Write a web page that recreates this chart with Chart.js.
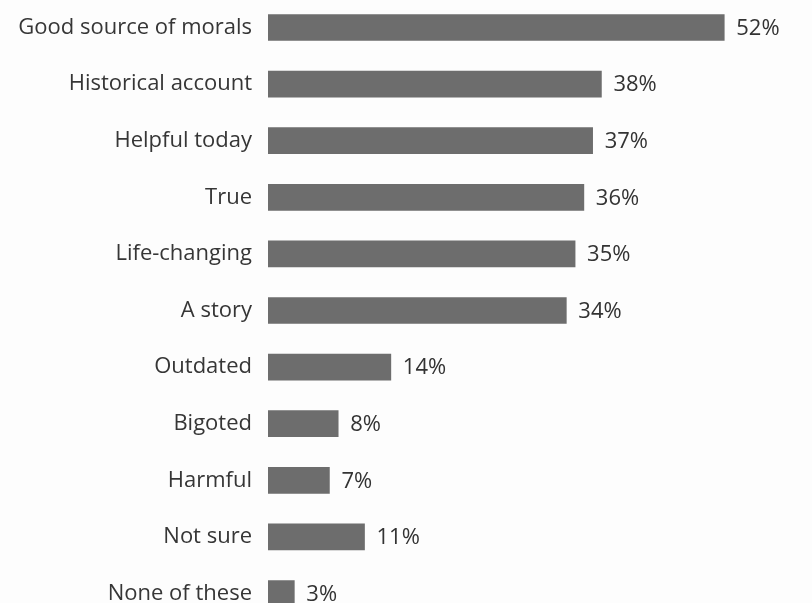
<!DOCTYPE html>
<html>
<head>
<meta charset="utf-8">
<script src="https://cdn.jsdelivr.net/npm/chart.js@4.4.1/dist/chart.umd.min.js"></script>
<style>
html, body { margin: 0; padding: 0; background: #fdfdfd; overflow: hidden; }
#wrap { position: relative; width: 812px; height: 665px; margin-top: -22px; }
</style>
</head>
<body>
<div id="wrap"><canvas id="chart"></canvas></div>
<script>
// answers, top to bottom
const categories = [
  "Good source of morals",
  "Historical account",
  "Helpful today",
  "True",
  "Life-changing",
  "A story",
  "Outdated",
  "Bigoted",
  "Harmful",
  "Not sure",
  "None of these"
];

const percents = [52, 38, 37, 36, 35, 34, 14, 8, 7, 11, 3];

const valueLabels = percents.map(v => v + "%");

/* VALUE LABELS AT BAR END */

const barValues = {
  id: "barValues",
  afterDatasetsDraw(chart){
    const ctx = chart.ctx;
    const meta = chart.getDatasetMeta(0);
    ctx.save();
    ctx.font = "500 22px 'Open Sans'";
    ctx.fillStyle = "#333333";
    ctx.textAlign = "left";
    ctx.textBaseline = "middle";
    meta.data.forEach((bar, i) => {
      ctx.fillText(valueLabels[i], bar.x + 12, bar.y + 1);
    });
    ctx.restore();
  }
};

new Chart(document.getElementById("chart"), {
  type: "bar",
  data: {
    labels: categories,
    datasets: [{
      data: percents,
      backgroundColor: "#6d6d6d",
      borderWidth: 0,
      barThickness: 26
    }]
  },
  options: {
    indexAxis: "y",
    responsive: true,
    maintainAspectRatio: false,
    animation: false,
    layout: { padding: 0 },
    plugins: {
      legend: { display: false },
      tooltip: { enabled: false }
    },
    scales: {
      x: {
        display: false,
        min: 0,
        max: 62
      },
      y: {
        afterFit(scale){ scale.width = 268; },
        grid: { display: false },
        border: { display: false },
        ticks: {
          padding: 8,
          color: "#363636",
          font: { family: "Open Sans", size: 22 }
        }
      }
    }
  },
  plugins: [barValues]
});
</script>
</body>
</html>
